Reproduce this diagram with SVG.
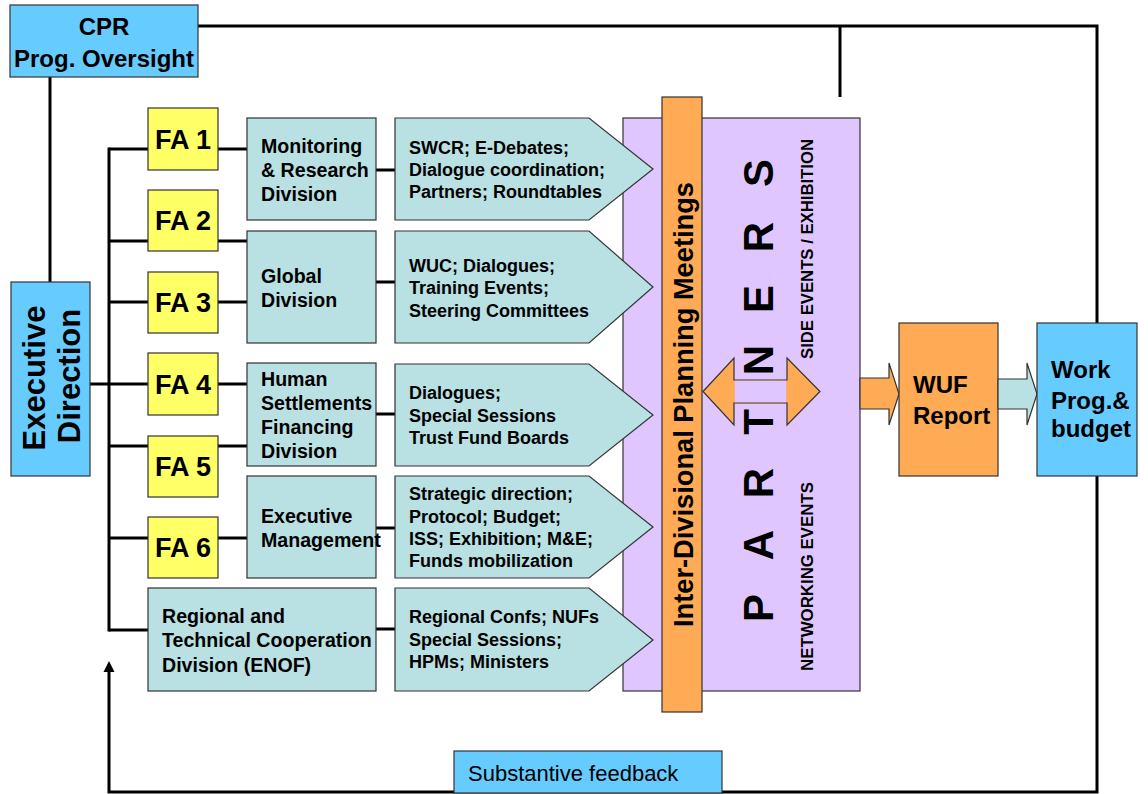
<svg xmlns="http://www.w3.org/2000/svg" width="1148" height="794" viewBox="0 0 1148 794">
<style>
text{font-family:"Liberation Sans",Arial,sans-serif;fill:#000}
.b{font-weight:bold}
.box{stroke:#333;stroke-width:1.2}
.blue{fill:#66CCFF}
.yel{fill:#FFFF66}
.teal{fill:#B9E0E3}
.pur{fill:#E0C6FE}
.org{fill:#FFAA55}
.ln{stroke:#000;stroke-width:3;fill:none}
.fa{font-size:27px;font-weight:bold}
.dv{font-size:19.6px;font-weight:bold}
.ar{font-size:18px;font-weight:bold}
.big{font-size:24px;font-weight:bold}
.pt{font-size:42px;font-weight:bold}
</style>
<rect width="1148" height="794" fill="#fff"/>

<g id="connectors">
<polyline class="ln" points="198,26 1097,26 1097,323"/>
<line class="ln" x1="840" y1="26" x2="840" y2="97"/>
<line class="ln" x1="50" y1="77" x2="50" y2="282"/>
<line class="ln" x1="90" y1="384" x2="109" y2="384"/>
<line class="ln" x1="109" y1="147.5" x2="109" y2="631.5"/>
<line class="ln" x1="109" y1="149" x2="148" y2="149"/>
<line class="ln" x1="109" y1="241" x2="148" y2="241"/>
<line class="ln" x1="109" y1="302" x2="148" y2="302"/>
<line class="ln" x1="109" y1="384" x2="148" y2="384"/>
<line class="ln" x1="109" y1="446" x2="148" y2="446"/>
<line class="ln" x1="109" y1="538" x2="148" y2="538"/>
<line class="ln" x1="109" y1="630" x2="148" y2="630"/>
<line class="ln" x1="218" y1="149" x2="247" y2="149"/>
<line class="ln" x1="218" y1="241" x2="247" y2="241"/>
<line class="ln" x1="218" y1="302" x2="247" y2="302"/>
<line class="ln" x1="218" y1="384" x2="247" y2="384"/>
<line class="ln" x1="218" y1="446" x2="247" y2="446"/>
<line class="ln" x1="218" y1="538" x2="247" y2="538"/>
<line class="ln" x1="376" y1="170" x2="395" y2="170"/>
<line class="ln" x1="376" y1="282" x2="395" y2="282"/>
<line class="ln" x1="376" y1="414" x2="395" y2="414"/>
<line class="ln" x1="376" y1="528" x2="395" y2="528"/>
<line class="ln" x1="376" y1="629" x2="395" y2="629"/>
<polyline class="ln" points="1097,476 1097,792 109,792 109,670"/>
<polygon points="109,661 103.5,672 114.5,672" fill="#000"/>
</g>

<g id="cpr">
<rect class="box blue" x="10" y="5" width="188" height="72"/>
<text class="big" x="104" y="35" text-anchor="middle">CPR</text>
<text class="big" x="104" y="67" text-anchor="middle">Prog. Oversight</text>
</g>

<g id="exec-direction">
<rect class="box blue" x="11" y="282" width="79" height="194"/>
<text class="b" font-size="31" transform="translate(45,378) rotate(-90)" text-anchor="middle">Executive</text>
<text class="b" font-size="31" transform="translate(80,376) rotate(-90)" text-anchor="middle">Direction</text>
</g>

<g id="fa1"><rect class="box yel" x="148" y="108" width="70" height="62"/><text class="fa" x="183" y="149" text-anchor="middle">FA 1</text></g>
<g id="fa2"><rect class="box yel" x="148" y="190" width="70" height="61"/><text class="fa" x="183" y="230" text-anchor="middle">FA 2</text></g>
<g id="fa3"><rect class="box yel" x="148" y="272" width="70" height="61"/><text class="fa" x="183" y="312" text-anchor="middle">FA 3</text></g>
<g id="fa4"><rect class="box yel" x="148" y="353" width="70" height="62"/><text class="fa" x="183" y="394" text-anchor="middle">FA 4</text></g>
<g id="fa5"><rect class="box yel" x="148" y="436" width="70" height="61"/><text class="fa" x="183" y="476" text-anchor="middle">FA 5</text></g>
<g id="fa6"><rect class="box yel" x="148" y="517" width="70" height="61"/><text class="fa" x="183" y="557" text-anchor="middle">FA 6</text></g>

<g id="div-monitoring">
<rect class="box teal" x="247" y="118" width="129" height="102"/>
<text class="dv" x="261" y="153">Monitoring</text>
<text class="dv" x="261" y="177">&amp; Research</text>
<text class="dv" x="261" y="201">Division</text>
</g>
<g id="div-global">
<rect class="box teal" x="247" y="231" width="129" height="112"/>
<text class="dv" x="261" y="283">Global</text>
<text class="dv" x="261" y="307">Division</text>
</g>
<g id="div-human">
<rect class="box teal" x="247" y="363" width="129" height="103"/>
<text class="dv" x="261" y="386">Human</text>
<text class="dv" x="261" y="410">Settlements</text>
<text class="dv" x="261" y="434">Financing</text>
<text class="dv" x="261" y="458">Division</text>
</g>
<g id="div-exec">
<rect class="box teal" x="247" y="476" width="129" height="102"/>
<text class="dv" x="261" y="523">Executive</text>
<text class="dv" x="261" y="547">Management</text>
</g>
<g id="div-regional">
<rect class="box teal" x="148" y="588" width="228" height="103"/>
<text class="dv" x="162" y="623">Regional and</text>
<text class="dv" x="162" y="647">Technical Cooperation</text>
<text class="dv" x="162" y="672">Division (ENOF)</text>
</g>

<g id="partners-box">
<rect class="box pur" x="623" y="118" width="237" height="573"/>
</g>

<g id="act1">
<polygon class="box teal" points="395,118 589,118 653,169 589,220 395,220"/>
<text class="ar" x="409" y="154">SWCR; E-Debates;</text>
<text class="ar" x="409" y="176">Dialogue coordination;</text>
<text class="ar" x="409" y="198">Partners; Roundtables</text>
</g>
<g id="act2">
<polygon class="box teal" points="395,231 589,231 653,287 589,343 395,343"/>
<text class="ar" x="409" y="272">WUC; Dialogues;</text>
<text class="ar" x="409" y="294">Training Events;</text>
<text class="ar" x="409" y="317">Steering Committees</text>
</g>
<g id="act3">
<polygon class="box teal" points="395,364 589,364 653,415 589,466 395,466"/>
<text class="ar" x="409" y="399">Dialogues;</text>
<text class="ar" x="409" y="422">Special Sessions</text>
<text class="ar" x="409" y="444">Trust Fund Boards</text>
</g>
<g id="act4">
<polygon class="box teal" points="395,476 589,476 653,527 589,578 395,578"/>
<text class="ar" x="409" y="500">Strategic direction;</text>
<text class="ar" x="409" y="523">Protocol; Budget;</text>
<text class="ar" x="409" y="545">ISS; Exhibition; M&amp;E;</text>
<text class="ar" x="409" y="567">Funds mobilization</text>
</g>
<g id="act5">
<polygon class="box teal" points="395,588 589,588 653,640 589,691 395,691"/>
<text class="ar" x="409" y="623">Regional Confs; NUFs</text>
<text class="ar" x="409" y="646">Special Sessions;</text>
<text class="ar" x="409" y="668">HPMs; Ministers</text>
</g>

<g id="planning-bar">
<rect class="box org" x="662" y="97" width="40" height="615"/>
<text class="b" font-size="27" transform="translate(693,404.5) rotate(-90)" text-anchor="middle" textLength="445" lengthAdjust="spacingAndGlyphs">Inter-Divisional Planning Meetings</text>
</g>

<g id="partners">
<polygon class="box org" points="703,391.5 734,358 734,380 787,380 787,358 820,391.5 787,425 787,403 734,403 734,425"/>
<rect class="pur" x="734.8" y="380.8" width="51.4" height="21.4"/>
<text class="pt" transform="translate(773,608) rotate(-90)" text-anchor="middle">P</text>
<text class="pt" transform="translate(773,545) rotate(-90)" text-anchor="middle">A</text>
<text class="pt" transform="translate(773,483) rotate(-90)" text-anchor="middle">R</text>
<text class="pt" transform="translate(773,422) rotate(-90)" text-anchor="middle">T</text>
<text class="pt" transform="translate(773,360) rotate(-90)" text-anchor="middle">N</text>
<text class="pt" transform="translate(773,299) rotate(-90)" text-anchor="middle">E</text>
<text class="pt" transform="translate(773,237) rotate(-90)" text-anchor="middle">R</text>
<text class="pt" transform="translate(773,173) rotate(-90)" text-anchor="middle">S</text>
<text class="b" font-size="16" transform="translate(813,249) rotate(-90)" text-anchor="middle" textLength="220" lengthAdjust="spacingAndGlyphs">SIDE EVENTS / EXHIBITION</text>
<text class="b" font-size="16" transform="translate(813,576.5) rotate(-90)" text-anchor="middle" textLength="189" lengthAdjust="spacingAndGlyphs">NETWORKING EVENTS</text>
</g>

<g id="wuf-arrow"><polygon class="box org" points="860,378 889,378 889,363 899,394 889,425 889,409 860,409"/></g>
<g id="wuf">
<rect class="box org" x="899" y="323" width="99" height="153"/>
<text class="big" x="913" y="393">WUF</text>
<text class="big" x="913" y="424">Report</text>
</g>
<g id="wp-arrow"><polygon class="box teal" points="998,379 1027,379 1027,363 1037,394 1027,425 1027,409 998,409"/></g>
<g id="work-prog">
<rect class="box blue" x="1037" y="323" width="100" height="153"/>
<text class="big" x="1051" y="378">Work</text>
<text class="big" x="1051" y="409">Prog.&amp;</text>
<text class="big" x="1051" y="437">budget</text>
</g>

<g id="feedback">
<rect class="box blue" x="454" y="751" width="268" height="42"/>
<text x="468" y="781" font-size="22">Substantive feedback</text>
</g>
</svg>
